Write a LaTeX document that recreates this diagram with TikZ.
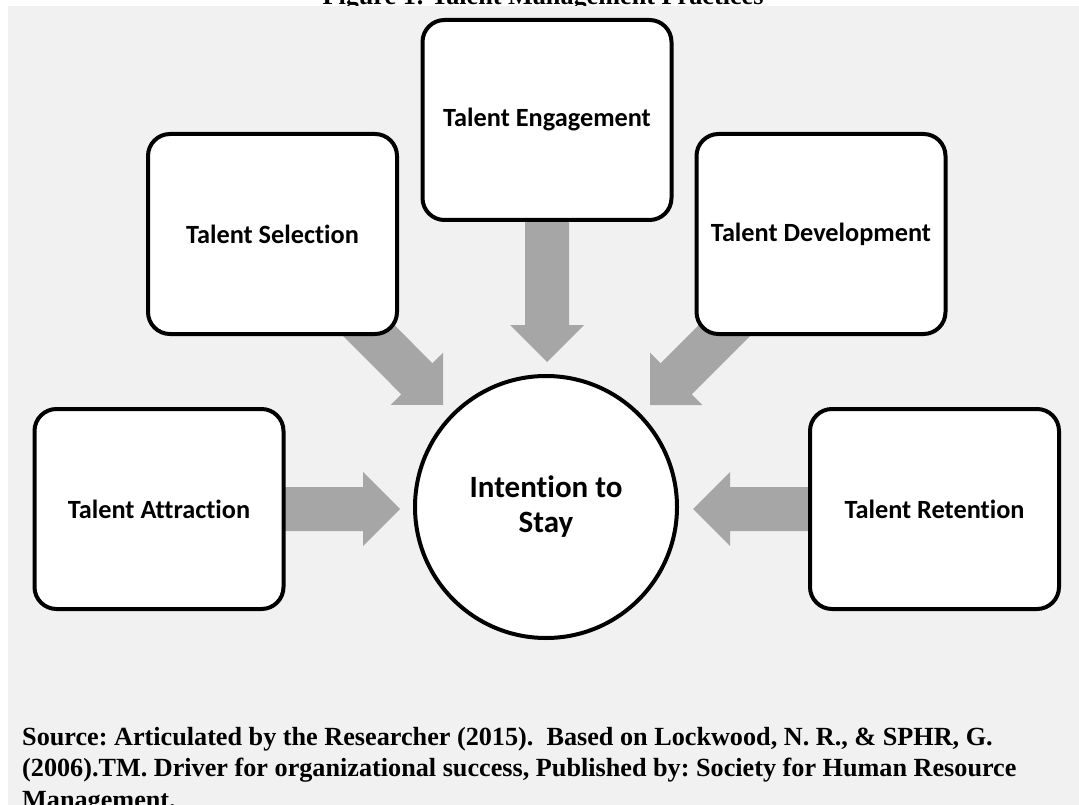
\documentclass[tikz,border=0pt]{standalone}
\usepackage{fontspec}
\setmainfont{Liberation Serif}
\newfontfamily\calfont[Ligatures={NoCommon}]{Carlito}
\usetikzlibrary{calc}
\definecolor{bgc}{HTML}{F1F1F1}
\definecolor{arrc}{HTML}{A6A6A6}
\newcommand\blockarrow[3]{% #1 tail, #2 tip, #3 name prefix
  \coordinate (#3h) at ($(#2)!37pt!(#1)$);
  \fill[arrfill] (#2)
    -- ($(#3h)!37pt!90:(#2)$)
    -- ($(#3h)!22pt!90:(#2)$)
    -- ($(#1)!22pt!90:(#2)$)
    -- ($(#1)!22pt!-90:(#2)$)
    -- ($(#3h)!22pt!-90:(#2)$)
    -- ($(#3h)!37pt!-90:(#2)$)
    -- cycle;
}
\frenchspacing
\begin{document}
\begin{tikzpicture}[x=1pt,y=-1pt,
  boxnode/.style={draw=black, line width=4pt, fill=white, rounded corners=22pt,
    minimum width=249pt, minimum height=200pt, inner sep=0pt,
    font=\calfont\bfseries\fontsize{26.3}{32}\selectfont},
  circnode/.style={circle, draw=black, line width=4pt, fill=white,
    minimum size=262pt, inner sep=0pt, align=center,
    font=\calfont\bfseries\fontsize{31}{35}\selectfont},
  arrfill/.style={fill=arrc},
  srcnode/.style={anchor=base west, inner sep=0pt,
    font=\bfseries\fontsize{26.2}{31}\selectfont}]
\useasboundingbox (0,0) rectangle (1079,805);
\node[anchor=base, inner sep=0pt, font=\bfseries\fontsize{26.2}{31}\selectfont] (title) at (543,5) {Figure 1: Talent Management Practices};
\fill[bgc] (8,6) rectangle (1079,805);
% centres
\coordinate (cA) at (159,509);
\coordinate (cR) at (934.5,509);
\coordinate (cS) at (272.5,234);
\coordinate (cD) at (821,234);
\coordinate (cE) at (547,120);
\coordinate (cC) at (546,507);
% tips
\coordinate (tA) at (400,509);
\coordinate (tR) at (693,509);
\coordinate (tE) at (547,362);
\coordinate (tS) at (443,405);
\coordinate (tD) at (650,405);
% block arrows
\blockarrow{cA}{tA}{a}
\blockarrow{cR}{tR}{r}
\blockarrow{cE}{tE}{e}
\blockarrow{cS}{tS}{s}
\blockarrow{cD}{tD}{d}
% boxes
\node[boxnode] (eng) at (cE) {Talent Engagement};
\node[boxnode] (sel) at (cS) {Talent Selection};
\node[boxnode] (dev) at (cD) {Talent Development};
\node[boxnode] (att) at (cA) {Talent Attraction};
\node[boxnode] (ret) at (cR) {Talent Retention};
\node[circnode] (its) at (cC) {Intention to\\Stay};
% source
\node[srcnode] (src1) at (22,745) {Source: Articulated by the Researcher (2015).\ \ Based on Lockwood, N. R., \& SPHR, G.};
\node[srcnode] (src2) at (22,776.5) {(2006).TM. Driver for organizational success, Published by: Society for Human Resource};
\node[srcnode] (src3) at (22,808) {Management.};
\end{tikzpicture}
\end{document}
